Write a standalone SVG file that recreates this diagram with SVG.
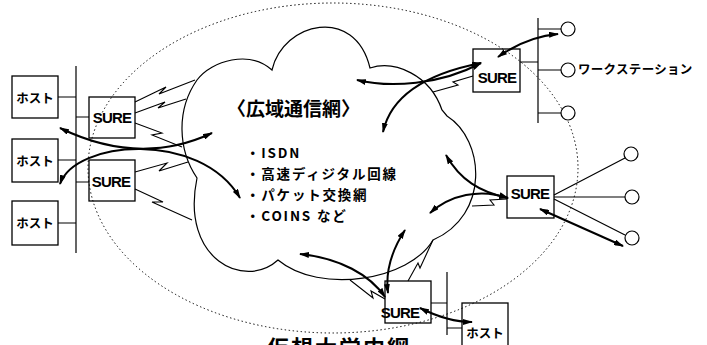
<svg xmlns="http://www.w3.org/2000/svg" width="707" height="345" viewBox="0 0 707 345">
<defs>
<marker id="ah" viewBox="0 0 10 6" refX="9" refY="3" markerWidth="10" markerHeight="6" markerUnits="userSpaceOnUse" orient="auto-start-reverse"><path d="M0,0 L10,3 L0,6 Z" fill="#000"/></marker>
<style>
.box{fill:none;stroke:#000;stroke-width:1.3}
.ln{fill:none;stroke:#000;stroke-width:1.2}
.arr{fill:none;stroke:#000;stroke-width:2;marker-start:url(#ah);marker-end:url(#ah)}
.bolt{fill:none;stroke:#000;stroke-width:1.1}
.cir{fill:#fff;stroke:#000;stroke-width:1.2}
.sure{font-family:"Liberation Sans",Arial,sans-serif;font-weight:bold;font-size:15px;letter-spacing:-0.8px;text-anchor:middle}
.jp{font-family:"Noto Sans CJK JP",sans-serif;font-weight:bold}
.host{font-size:12.5px;text-anchor:middle}
</style>
</defs>
<rect width="707" height="345" fill="#fff"/>

<g id="area">
<ellipse cx="333" cy="168" rx="245" ry="165" fill="none" stroke="#000" stroke-width="1" stroke-dasharray="1.4 2.6"/>
<text class="jp" x="267" y="356" font-size="22" letter-spacing="2">仮想大学内網</text>
</g>

<g id="wan">
<path class="ln" d="M197,178 C178,150 176,110 197,80 C212,60 250,50 272,70 C283,22 355,5 370,68 C395,60 430,75 442,110 L447,116 C485,140 490,215 433,240 C410,280 320,295 278,260 C245,290 180,260 197,178 Z"/>
<text class="jp" x="227" y="116" font-size="19">〈広域通信網〉</text>
<g class="jp" font-size="13.5" letter-spacing="1.8">
<text x="246" y="158">・ISDN</text>
<text x="246" y="179">・高速ディジタル回線</text>
<text x="246" y="200">・パケット交換網</text>
<text x="246" y="221">・COINS など</text>
</g>
</g>

<g id="host1"><rect class="box" x="12" y="76" width="46" height="42"/><text class="jp host" x="35" y="103">ホスト</text></g>
<g id="host2"><rect class="box" x="12" y="139" width="46" height="43"/><text class="jp host" x="35" y="166">ホスト</text></g>
<g id="host3"><rect class="box" x="12" y="201" width="46" height="44"/><text class="jp host" x="35" y="228">ホスト</text></g>
<g id="host4"><rect class="box" x="462" y="303" width="46" height="45"/><text class="jp host" x="485" y="338">ホスト</text></g>

<g id="sure1"><rect class="box" x="89" y="97" width="46" height="41"/><text class="sure" x="112" y="123">SURE</text></g>
<g id="sure2"><rect class="box" x="89" y="160" width="46" height="41"/><text class="sure" x="111" y="187">SURE</text></g>
<g id="sure3"><rect class="box" x="473" y="49" width="47" height="43"/><text class="sure" x="497" y="82.5">SURE</text></g>
<g id="sure4"><rect class="box" x="507" y="176" width="47" height="42"/><text class="sure" x="530" y="198.5">SURE</text></g>
<g id="sure5"><rect class="box" x="385" y="281" width="46" height="42"/><text class="sure" x="400" y="317.5">SURE</text></g>

<g id="ws1"><circle class="cir" cx="568" cy="29" r="7"/></g>
<g id="ws2"><circle class="cir" cx="568" cy="70" r="7"/><text class="jp" x="578" y="74" font-size="12.5" letter-spacing="0.3">ワークステーション</text></g>
<g id="ws3"><circle class="cir" cx="568" cy="113" r="7"/></g>
<g id="ws4"><circle class="cir" cx="631" cy="154" r="7"/></g>
<g id="ws5"><circle class="cir" cx="632" cy="197" r="7"/></g>
<g id="ws6"><circle class="cir" cx="632" cy="238" r="7"/></g>

<g id="connectors">
<path class="ln" d="M76,66 V253 M58,97 H76 M58,160 H76 M58,223 H76 M76,117 H89 M76,182 H89"/>
<path class="ln" d="M538,18 V123 M520,62 H538 M538,29 H561 M538,70 H561 M538,113 H561"/>
<path class="ln" d="M554,195 L625,158 M554,197 H625 M554,199 L625,235"/>
<path class="ln" d="M447,272 V335 M431,303 H447 M447,328 H462"/>
<polyline class="bolt" points="135,102 166,87 159,94 195,80"/>
<polyline class="bolt" points="135,113 165,102 158,108 186,99"/>
<polyline class="bolt" points="135,123 162,133 152,135 182,147"/>
<polyline class="bolt" points="135,172 167,163 159,171 188,162"/>
<polyline class="bolt" points="135,189 163,202 152,202 192,220"/>
<polyline class="bolt" points="473,76 453,82 458,85 433,92"/>
<polyline class="bolt" points="507,199 490,200 494,205 472,206"/>
<polyline class="bolt" points="350,280 373,298 371,291 385,299"/>
<polyline class="bolt" points="408,281 418,263 420,268 433,240"/>
<path class="arr" d="M60,128 C95,145 150,162 212,133"/>
<path class="arr" d="M60,184 C75,140 200,130 240,198"/>
<path class="arr" d="M357,80 C390,88 440,85 481,63"/>
<path class="arr" d="M383,132 C390,100 420,75 481,63"/>
<path class="arr" d="M498,57 C515,45 535,36 558,34"/>
<path class="arr" d="M446,155 C460,180 480,192 508,198"/>
<path class="arr" d="M430,213 C450,195 480,188 508,198"/>
<path class="arr" d="M300,254 C340,258 370,275 385,297"/>
<path class="arr" d="M405,230 C392,250 385,270 388,293"/>
<path class="arr" d="M420,308 C440,318 455,322 472,322"/>
<path class="arr" d="M540,209 L623,246"/>
</g>
</svg>
